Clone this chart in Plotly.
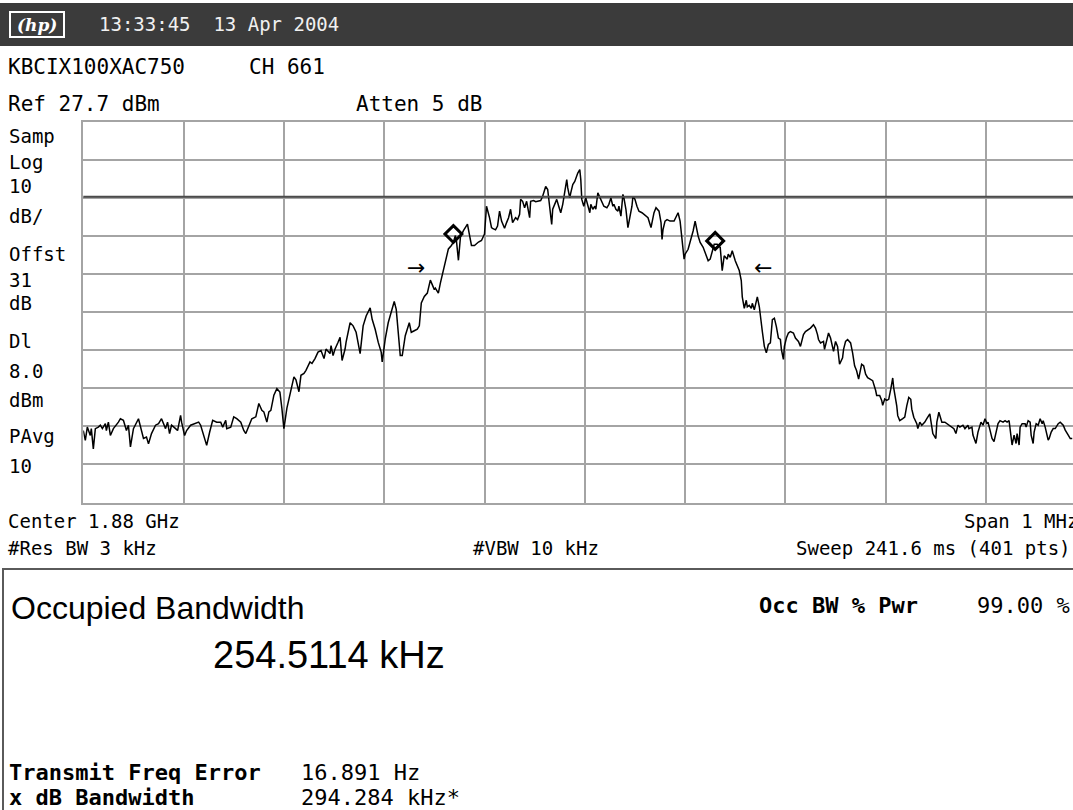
import plotly.graph_objects as go

W, H = 1073, 810

# ---------------- data ----------------
freq_khz = [
    -500, -498, -496, -493, -492, -490, -488, -485, -483, -481, -478, -477, -475, -473, -470, -467, -465, -463, -460,
    -457, -455, -453, -450, -445, -443, -440, -437, -435, -432, -428, -425, -422, -418, -416, -414, -412, -408, -406,
    -403, -402, -399, -397, -393, -388, -385, -383, -378, -377, -374, -371, -367, -363, -361, -358, -357, -353, -350,
    -347, -343, -340, -338, -335, -332, -328, -325, -322, -320, -317, -315, -313, -310, -307, -304, -302, -300,
    -297, -293, -290, -288, -285, -283, -280, -278, -274, -272, -269, -266, -263, -260, -258, -254, -253, -251, -249,
    -246, -244, -242, -239, -238, -234, -231, -228, -224, -221, -218, -214, -212, -209, -206, -203, -202, -199, -196,
    -190, -188, -186, -184, -182, -179, -175, -173, -170, -167, -165, -163, -160, -157, -154, -152, -150, -149, -146,
    -144, -141, -139, -136, -133, -131, -129, -128, -126, -124, -121, -117, -113, -110, -106, -103, -100, -98, -95, -93,
    -92, -89, -87, -85, -83, -80, -78, -76, -74, -72, -69, -67, -65, -64, -62, -60, -58, -55, -54, -51, -49, -45, -44,
    -42, -39, -37, -35, -33, -32, -30, -28, -26, -24, -22, -20, -18, -17, -15, -14, -12, -10, -9, -7, -5, -4, -3, -1,
    1, 3, 5, 6, 8, 10, 11, 13, 15, 17, 19, 22, 24, 26, 28, 29, 31, 33, 34, 36, 38, 39, 41, 43, 45, 47, 48, 50, 52, 54,
    57, 61, 63, 66, 67, 69, 71, 74, 76, 77, 78, 80, 82, 85, 89, 91, 93, 95, 97, 99, 100, 103,
    108, 110, 113, 115, 118, 120, 123, 125, 127, 129, 132, 135, 137, 139, 142, 143, 145, 147, 150, 152, 154, 156, 157,
    159, 161, 162, 164, 166, 167, 169, 172, 174, 175, 177, 179, 181, 183, 185, 187, 189, 191, 193, 195, 196, 198, 199,
    201, 203, 205, 208, 210, 213, 215, 216, 218, 220, 223, 225, 228, 230, 232, 233, 235, 238, 239, 241, 243, 245, 247,
    248, 250, 252, 254, 257, 258, 260, 262, 265, 267, 269, 271, 273, 275, 276, 278, 280, 282, 285, 287, 290, 291, 294,
    296, 297, 299, 301,
    303, 305, 307, 308, 309, 311, 312, 314, 317, 319, 321, 323, 325, 326, 328, 331, 332, 334, 336, 339, 341, 344, 345,
    347, 350, 351, 353, 354, 356, 359, 363, 365, 368, 370, 372, 374, 377, 379, 382, 383, 386, 387, 390, 392, 395, 397,
    399, 401, 402, 404, 406, 408, 410, 412, 414, 417, 419, 421, 423, 424, 426, 428, 430, 431, 433, 434, 436, 439, 440,
    442, 444, 445, 447, 448, 450, 452, 454, 456, 457, 459, 460, 462, 463, 465, 467, 469, 472, 474, 477, 479, 482, 484,
    486,
]
level_dbm = [
    -53.4, -56.0, -52.5, -54.7, -52.9, -58.2, -52.9, -52.5, -52.0, -52.9, -51.6, -53.4, -51.2, -54.7, -52.9, -52.0,
    -51.2, -50.3, -50.7, -53.4, -52.0, -57.7, -52.9, -50.3, -52.5, -55.5, -55.1, -56.9, -54.2, -52.0, -51.6, -50.3,
    -52.9, -51.2, -54.2, -52.0, -52.9, -53.4, -49.4, -51.2, -54.7, -53.4, -52.0, -51.6, -51.2, -52.0, -56.4, -57.3,
    -53.8, -50.7, -51.2, -51.2, -52.5, -50.7, -52.9, -52.5, -49.8, -50.3, -51.2, -53.4, -54.2, -52.0, -50.3, -49.8,
    -46.3, -48.1, -48.5, -51.2, -48.5, -48.1, -44.1, -42.4, -43.3, -47.6, -52.9,
    -47.5, -42.3, -39.3, -40.1, -43.2, -38.9, -38.4, -37.6, -35.4, -35.8, -34.5, -32.8, -32.4, -34.5, -32.0, -33.2,
    -31.1, -33.7, -32.0, -30.2, -28.9, -35.0, -32.0, -30.2, -25.1, -25.9, -27.6, -33.2, -25.9, -23.3, -21.2, -24.2,
    -26.8, -30.2, -32.8, -35.4, -29.4, -25.1, -19.5, -21.6, -28.5, -33.7, -33.7, -28.5, -25.1, -27.6, -27.2, -26.8,
    -25.9, -19.9, -18.2, -17.3, -13.9, -15.1, -16.4, -16.0, -17.3, -14.7, -11.3, -8.7, -5.7, -4.8, -3.9, -2.2, -3.5,
    -8.7, -2.6, -0.9, 0.8, -4.8, -4.8, -3.9, -3.5, -1.8, 5.5, 2.5, -0.1,
    -0.3, -0.7, 0.3, 4.2, 1.6, -0.3, 1.2, 2.5, 4.7, 1.2, 2.5, 2.0, 3.4, 7.3, 6.8, 5.1, 6.8, 2.5, 6.8, 7.0, 6.7, 6.8,
    7.0, 8.1, 10.7, 9.9, 5.1, 0.7, 4.7, 6.0, 7.3, 5.5, 3.8, 6.0, 9.4, 12.5, 10.3, 7.7, 9.0, 11.2, 12.0, 12.9, 14.2,
    15.1, 12.5, 7.3, 5.5, 7.7, 6.0, 3.8, 6.0, 4.7, 5.5, 4.7, 9.0, 7.7, 6.4, 5.5, 5.1, 6.0, 7.7, 5.5, 6.0, 4.7, 4.2,
    5.5, 2.9, 8.6, 7.7, 4.7, -0.1, 2.5, 5.5, 8.1, 7.3, 5.5, 4.2, 3.8, 2.9, 2.5, -0.1, 1.6, 3.8, 5.1, 4.2, 1.2, -3.2,
    -0.6, 1.6, 2.0, 1.6, 1.6, 2.9, 3.8, 1.6, -3.6, -8.4, -7.1, -5.8,
    -1.0, 1.6, -2.3, -4.0, -5.3, -6.6, -8.8, -8.4, -6.2, -4.5, -4.5, -5.3, -11.4, -7.5, -8.4, -7.1, -7.9, -6.2, -8.8,
    -10.1, -11.4, -14.0, -18.3, -21.3, -19.2, -20.9, -20.5, -21.3, -20.0, -21.7, -18.3, -20.9, -23.5, -27.4, -31.3,
    -33.0, -30.8, -30.4, -24.3, -23.9, -26.1, -29.1, -29.5, -32.1, -34.7, -31.3, -29.1, -27.8, -27.4, -27.8, -29.1,
    -30.0, -31.3, -30.0, -28.2, -27.4, -26.9, -26.5, -25.6, -26.5, -28.2, -29.5, -30.4, -30.0, -32.1, -30.0, -27.8,
    -29.1, -31.7, -32.6, -30.0, -31.3, -36.0, -34.3, -32.1, -30.0, -29.5, -30.4, -33.0, -36.4, -37.7, -39.9, -37.3,
    -36.0, -36.4, -38.6, -39.5, -39.9, -40.3, -42.9, -44.2, -44.2, -45.5, -46.8, -45.1, -45.5,
    -45.2, -42.6, -39.6, -42.2, -43.5, -46.9, -49.5, -50.8, -50.3, -49.9, -46.9, -44.7, -45.2, -47.8, -49.9, -51.6,
    -52.9, -51.2, -52.0, -51.2, -50.3, -49.0, -50.8, -54.2, -55.5, -51.2, -48.6, -49.5, -51.2, -51.2, -52.0, -52.5,
    -52.9, -54.2, -52.0, -52.5, -52.0, -52.9, -52.0, -52.9, -52.5, -54.6, -56.8, -53.8, -51.2, -52.0, -50.3, -51.6,
    -51.2, -53.3, -55.5, -56.3, -54.2, -51.6, -50.8, -51.2, -50.8, -51.2, -50.8, -53.3, -57.2, -54.6, -56.8, -54.2,
    -57.2, -52.5, -51.6, -51.6, -52.5, -50.8, -51.2, -54.6, -56.8, -53.8, -51.6, -52.0, -50.3, -51.6, -50.8, -52.5,
    -53.8, -55.9, -55.5, -53.8, -52.9, -52.9, -51.6, -51.2, -52.0, -53.3, -54.6, -55.5, -55.5,
]

marker_freq_khz = [-131, 130]
marker_level_dbm = [-1.8, -3.6]
arrow_freq_khz = [-168, 178]
arrow_level_dbm = [-10.6, -10.6]
arrow_glyphs = ["\u2192", "\u2190"]

ref_level_dbm = 27.7
db_per_div = 10
display_line_dbm = 8.0
span_khz = 1000

header_text = "13:33:45  13 Apr 2004"
row1_texts = ["KBCIX100XAC750", "CH 661"]
row2_texts = ["Ref 27.7 dBm", "Atten 5 dB"]
side_labels = ["Samp", "Log", "10", "dB/", "Offst", "31", "dB", "Dl", "8.0", "dBm", "PAvg", "10"]
bottom_row1 = ["Center 1.88 GHz", "Span 1 MHz"]
bottom_row2 = ["#Res BW 3 kHz", "#VBW 10 kHz", "Sweep 241.6 ms (401 pts)"]
result_title = "Occupied Bandwidth"
result_value = "254.5114 kHz"
occ_label, occ_value = "Occ BW % Pwr", "99.00 %"
result_rows = [("Transmit Freq Error", "16.891 Hz"), ("x dB Bandwidth", "294.284 kHz*")]

# ---------------- layout helpers ----------------
def px(x):
    return x / W


def py(y):
    return 1 - y / H


PLOT_L, PLOT_T, PLOT_B = 83.3, 121.7, 502.5
DIV_PX = 100.3
MONO = "DejaVu Sans Mono"
GRID = "#a4a4a4"

fig = go.Figure()
fig.add_trace(go.Scatter(x=freq_khz, y=level_dbm, mode="lines",
                         line=dict(color="black", width=1.5), hoverinfo="skip"))
fig.add_trace(go.Scatter(x=marker_freq_khz, y=marker_level_dbm, mode="markers",
                         marker=dict(symbol="diamond-open", size=13, color="black",
                                     line=dict(width=3, color="black")), hoverinfo="skip"))

x_right = -span_khz / 2 + (W - PLOT_L) / (10 * DIV_PX) * span_khz

fig.update_xaxes(domain=[px(PLOT_L), 1], range=[-span_khz / 2, x_right],
                 tick0=-span_khz / 2, dtick=span_khz / 10, showticklabels=False, ticks="",
                 showgrid=True, gridcolor=GRID, gridwidth=2, zeroline=False,
                 showline=True, mirror=True, linecolor=GRID, linewidth=2)
fig.update_yaxes(domain=[py(PLOT_B), py(PLOT_T)],
                 range=[ref_level_dbm - 10 * db_per_div, ref_level_dbm],
                 tick0=ref_level_dbm, dtick=db_per_div, showticklabels=False, ticks="",
                 showgrid=True, gridcolor=GRID, gridwidth=2, zeroline=False,
                 showline=True, mirror=False, linecolor=GRID, linewidth=2)

shapes = [
    # header bar
    dict(type="rect", xref="paper", yref="paper", x0=0, x1=1, y0=py(46), y1=py(3),
         fillcolor="#3b3b3b", line=dict(width=0), layer="below"),
    # hp logo outline
    dict(type="rect", xref="paper", yref="paper", x0=px(10), x1=px(64), y0=py(37), y1=py(12),
         fillcolor="#3b3b3b", line=dict(color="white", width=2)),
    # display line
    dict(type="line", xref="paper", yref="y", x0=px(PLOT_L), x1=1, y0=display_line_dbm, y1=display_line_dbm,
         line=dict(color="#4a4a4a", width=2)),
    # results box
    dict(type="rect", xref="paper", yref="paper", x0=px(3), x1=px(1080), y0=py(820), y1=py(569),
         fillcolor="rgba(0,0,0,0)", line=dict(color="#5a5a5a", width=2)),
]

ann = []


def txt(text, x, y, size=20, color="black", family=MONO, anchor="left", bold=False, italic=False):
    t = text
    if bold:
        t = "<b>" + t + "</b>"
    if italic:
        t = "<i>" + t + "</i>"
    ann.append(dict(text=t, xref="paper", yref="paper", x=px(x), y=py(y), xanchor=anchor, yanchor="middle",
                    showarrow=False, font=dict(family=family, size=size, color=color)))


txt("(hp)", 37, 25, size=17, color="white", family="DejaVu Serif", anchor="center", bold=True, italic=True)
txt(header_text, 97, 24, size=19, color="#f0f0f0")
txt(row1_texts[0], 6, 67, size=21)
txt(row1_texts[1], 247, 67, size=21)
txt(row2_texts[0], 6, 104, size=21)
txt(row2_texts[1], 354, 104, size=21)

side_y = [136, 162, 186, 216, 254, 280, 303, 341, 371, 400, 436, 466]
for label, yy in zip(side_labels, side_y):
    txt(label, 7, yy, size=19)

txt(bottom_row1[0], 6, 521, size=19)
txt(bottom_row1[1], 1080, 521, size=19, anchor="right")
txt(bottom_row2[0], 6, 548, size=19)
txt(bottom_row2[1], 471, 548, size=19)
txt(bottom_row2[2], 1073, 548, size=19, anchor="right")

txt(result_title, 9, 608, size=32, family="Liberation Sans")
txt(result_value, 211, 655, size=38, family="Liberation Sans")
txt(occ_label, 757, 605, size=22, bold=True)
txt(occ_value, 975, 605, size=22)
for i, (lab, val) in enumerate(result_rows):
    yy = 772 + 25 * i
    txt(lab, 7, yy, size=22, bold=True)
    txt(val, 299, yy, size=22)

for g, fx, fy in zip(arrow_glyphs, arrow_freq_khz, arrow_level_dbm):
    ann.append(dict(text=g, xref="x", yref="y", x=fx, y=fy, xanchor="center", yanchor="middle",
                    showarrow=False, font=dict(family="DejaVu Sans", size=22, color="black")))

fig.update_layout(width=W, height=H, margin=dict(l=0, r=0, t=0, b=0),
                  paper_bgcolor="white", plot_bgcolor="white", showlegend=False,
                  shapes=shapes, annotations=ann)

fig.write_html("out.html", config={"displayModeBar": False},
               post_script="document.body.style.margin='0px';document.body.style.overflow='hidden';")
